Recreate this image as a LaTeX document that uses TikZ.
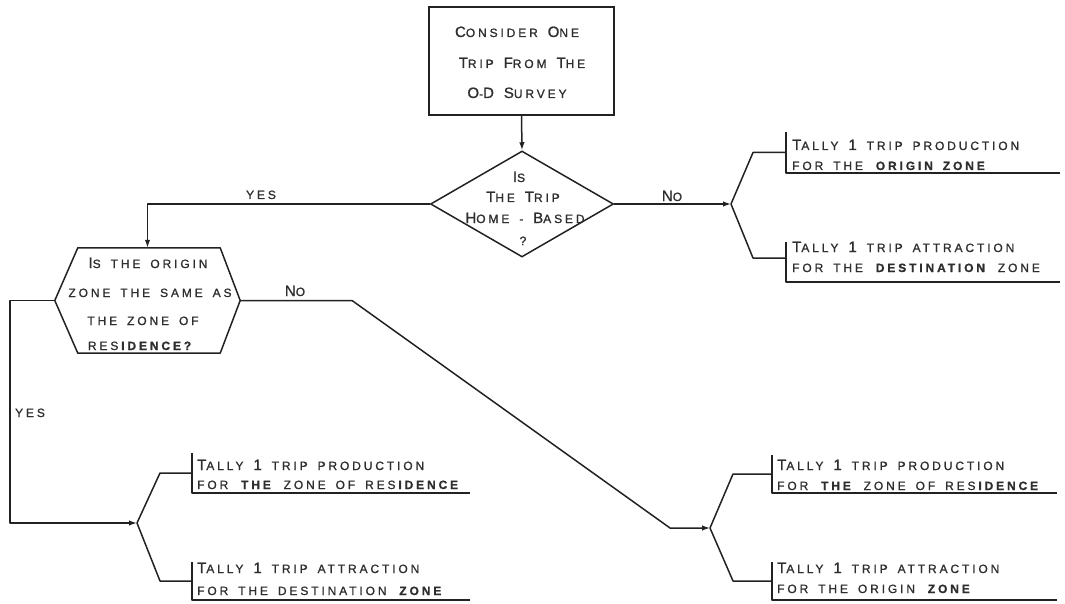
\documentclass[tikz,border=0pt]{standalone}
\usepackage{fontspec}
\newfontfamily\lett[LetterSpace=24, WordSpace=1.6, FakeBold=1.1]{Liberation Sans}
\usetikzlibrary{arrows.meta,shapes.geometric}
\definecolor{ink}{HTML}{222222}
\definecolor{txtc}{HTML}{2E2E2E}
\newcommand\Bg[1]{{\fontsize{15}{15}\selectfont #1}}
\tikzset{
  ln/.style={line width=1.5pt, draw=ink, line join=round},
  arr/.style={ln, -{Latex[length=8pt,width=5.5pt]}},
  txt/.style={font=\lett\fontsize{12}{12}\selectfont, text=txtc, inner sep=0pt, anchor=base},
  txtl/.style={txt, anchor=base west},
  blk/.style={draw=none, inner sep=0pt},
}
\begin{document}
\begin{tikzpicture}[x=1pt,y=-1pt]
\useasboundingbox (0,0) rectangle (1065,604);

% start box
\node[draw=ink, line width=1.5pt, minimum width=185pt, minimum height=108pt, inner sep=0pt] (start) at (521.5,61) {};
\node[txt] (s1) at (517,37) {\Bg{C}ONSIDER \Bg{O}NE};
\node[txt] (s2) at (522,68) {\Bg{T}RIP \Bg{F}ROM \Bg{T}HE};
\node[txt] (s3) at (517,98) {\Bg{O}-\Bg{D} \Bg{S}URVEY};

% diamond
\node[draw=ink, line width=1.5pt, diamond, minimum width=183pt, minimum height=106pt, inner sep=0pt] (home) at (522,204) {};
\node[txt] (d1) at (519,182) {\Bg{I}S};
\node[txt] (d2) at (523,202) {\Bg{T}HE \Bg{T}RIP};
\node[txt] (d3) at (525,223) {\Bg{H}OME - \Bg{B}ASED};
\node[txt] (d4) at (523,245) {?};

\draw[arr] (start.south) -- (home.north);

% hexagon
\node[blk, minimum width=185pt, minimum height=105pt] (hex) at (147.5,300.5) {};
\draw[ln] (hex.west) -- ([xshift=23pt]hex.north west) -- ([xshift=-20pt]hex.north east)
  -- (hex.east) -- ([xshift=-20pt]hex.south east) -- ([xshift=23pt]hex.south west) -- cycle;
\node[txt] (h1) at (148,268) {\Bg{I}S THE ORIGIN};
\node[txt] (h2) at (150,297) {ZONE THE SAME AS};
\node[txt] (h3) at (143,325) {THE ZONE OF};
\node[txt] (h4) at (141,350) {RES\textbf{IDENCE?}};

% Yes from diamond
\draw[arr] (home.west) -| (hex.north);
\node[txt] (yes1) at (261,199) {YES};

% No from diamond
\coordinate (b1) at (731,204);
\draw[arr] (home.east) -- (b1);
\node[txt] (no1) at (672,201) {\Bg{N}O};

% blocks
\node[blk, minimum width=274pt, minimum height=41pt] (ta) at (923,152.5) {};
\node[blk, minimum width=274pt, minimum height=40pt] (tb) at (923,262) {};
\node[blk, minimum width=278pt, minimum height=40pt] (tc) at (331,473) {};
\node[blk, minimum width=278pt, minimum height=38pt] (td) at (331,581) {};
\node[blk, minimum width=285pt, minimum height=38pt] (te) at (914.5,474) {};
\node[blk, minimum width=285pt, minimum height=38pt] (tf) at (914.5,581) {};
\foreach \b in {ta,tb,tc,td,te,tf}{
  \draw[ln] (\b.north west) -- (\b.south west) -- (\b.south east);
}

% branch A/B
\coordinate (k1) at (753,152.5);
\coordinate (k2) at (753,258);
\draw[ln] (b1) -- (k1) -- (ta.west);
\draw[ln] (b1) -- (k2) -- ([yshift=4pt]tb.west);
\node[txtl] (a1) at (792,150) {\Bg{T}ALLY \Bg{1} TRIP PRODUCTION};
\node[txtl] (a2) at (792,170) {FOR THE \textbf{ORIGIN ZONE}};
\node[txtl] (a3) at (792,252) {\Bg{T}ALLY \Bg{1} TRIP ATTRACTION};
\node[txtl] (a4) at (792,272) {FOR THE \textbf{DESTINATION} ZONE};

% Yes from hexagon
\coordinate (b2) at (137,523);
\coordinate (lc) at (10,523);
\draw[arr] (hex.west) -| (lc) -- (b2);
\node[txt] (yes2) at (30,417) {YES};
\coordinate (k3) at (160,473);
\coordinate (k4) at (160,581);
\draw[ln] (b2) -- (k3) -- (tc.west);
\draw[ln] (b2) -- (k4) -- (td.west);
\node[txtl] (c1) at (197,470) {\Bg{T}ALLY \Bg{1} TRIP PRODUCTION};
\node[txtl] (c2) at (197,489) {FOR \textbf{THE} ZONE OF RES\textbf{IDENCE}};
\node[txtl] (c3) at (197,573) {\Bg{T}ALLY \Bg{1} TRIP ATTRACTION};
\node[txtl] (c4) at (197,595) {FOR THE DESTINATION \textbf{ZONE}};

% No from hexagon
\coordinate (b3) at (710,528);
\coordinate (n1) at (352,300.5);
\coordinate (n2) at (670,528);
\draw[arr] (hex.east) -- (n1) -- (n2) -- (b3);
\node[txt] (no2) at (295,296) {\Bg{N}O};
\coordinate (k5) at (733,474);
\coordinate (k6) at (733,581);
\draw[ln] (b3) -- (k5) -- (te.west);
\draw[ln] (b3) -- (k6) -- (tf.west);
\node[txtl] (e1) at (777,470) {\Bg{T}ALLY \Bg{1} TRIP PRODUCTION};
\node[txtl] (e2) at (777,490) {FOR \textbf{THE} ZONE OF RES\textbf{IDENCE}};
\node[txtl] (e3) at (777,573) {\Bg{T}ALLY \Bg{1} TRIP ATTRACTION};
\node[txtl] (e4) at (777,593) {FOR THE ORIGIN \textbf{ZONE}};
\end{tikzpicture}
\end{document}
